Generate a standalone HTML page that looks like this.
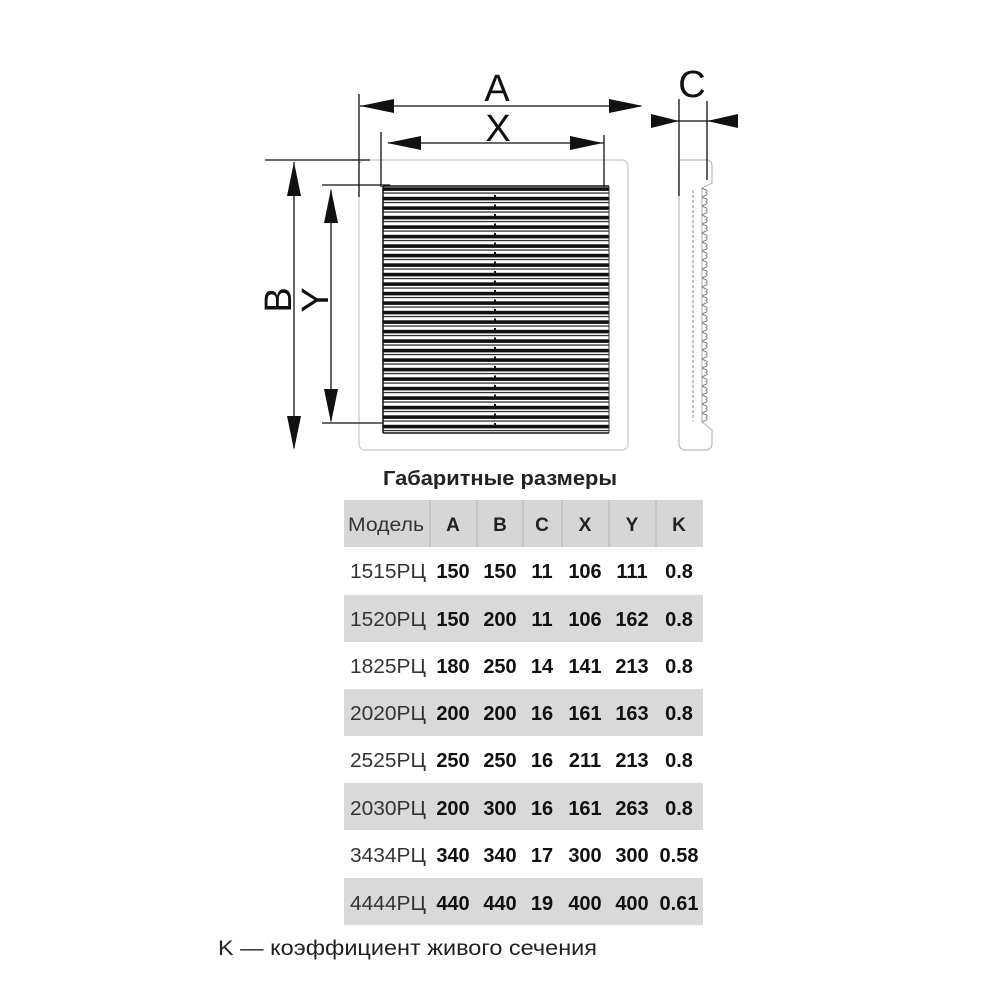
<!DOCTYPE html>
<html><head><meta charset="utf-8"><style>
html,body{margin:0;padding:0;background:#fff;}
svg{display:block;}
</style></head><body>
<svg width="1000" height="1000" viewBox="0 0 1000 1000" xmlns="http://www.w3.org/2000/svg" font-family="'Liberation Sans','DejaVu Sans',sans-serif">
<defs>
<pattern id="sl" x="0" y="186" width="10" height="9.5" patternUnits="userSpaceOnUse">
<rect x="0" y="1.3" width="10" height="3.6" fill="#111"/>
<rect x="0" y="6.4" width="10" height="1.3" fill="#333"/>
</pattern>
<pattern id="sc" x="0" y="188" width="20" height="9" patternUnits="userSpaceOnUse">
<path d="M0 0 Q10 2 6 4.5 Q10 7 0 9" fill="none" stroke="#777" stroke-width="0.9"/>
</pattern>
</defs>
<rect x="359" y="160" width="269" height="290" rx="6" fill="none" stroke="#c8c8c8" stroke-width="1.2"/>
<rect x="383" y="186" width="226" height="247" fill="url(#sl)"/>
<line x1="383" y1="186" x2="609" y2="186" stroke="#111" stroke-width="1.5"/>
<line x1="383" y1="433" x2="609" y2="433" stroke="#111" stroke-width="1.5"/>
<line x1="383" y1="186" x2="383" y2="433" stroke="#111" stroke-width="1.5"/>
<line x1="609" y1="186" x2="609" y2="433" stroke="#333" stroke-width="1"/>
<line x1="495" y1="195" x2="495" y2="430" stroke="#111" stroke-width="2" stroke-dasharray="2 7.5"/>
<line x1="359" y1="94" x2="359" y2="197" stroke="#111" stroke-width="1.3"/>
<line x1="360" y1="106" x2="641" y2="106" stroke="#111" stroke-width="1.3"/>
<polygon points="360,106 394,99 394,113" fill="#111"/>
<polygon points="643,106 609,99 609,113" fill="#111"/>
<text x="497" y="101" font-size="38" text-anchor="middle" fill="#111">A</text>
<line x1="381" y1="132" x2="381" y2="187" stroke="#111" stroke-width="1.3"/>
<line x1="604" y1="135" x2="604" y2="187" stroke="#111" stroke-width="1.3"/>
<line x1="388" y1="143" x2="604" y2="143" stroke="#111" stroke-width="1.3"/>
<polygon points="387,143 421,136 421,150" fill="#111"/>
<polygon points="603,143 570,136 570,150" fill="#111"/>
<text x="498" y="141" font-size="38" text-anchor="middle" fill="#111">X</text>
<line x1="265" y1="160" x2="370" y2="160" stroke="#111" stroke-width="1.3"/>
<line x1="294" y1="162" x2="294" y2="448" stroke="#111" stroke-width="1.3"/>
<polygon points="294,162 287,196 301,196" fill="#111"/>
<polygon points="294,450 287,416 301,416" fill="#111"/>
<text transform="translate(291,300) rotate(-90)" font-size="38" text-anchor="middle" fill="#111">B</text>
<line x1="322" y1="185" x2="390" y2="185" stroke="#111" stroke-width="1.3"/>
<line x1="322" y1="423" x2="383" y2="423" stroke="#111" stroke-width="1.3"/>
<line x1="331" y1="190" x2="331" y2="421" stroke="#111" stroke-width="1.3"/>
<polygon points="331,189 324,223 338,223" fill="#111"/>
<polygon points="331,423 324,389 338,389" fill="#111"/>
<text transform="translate(328,300) rotate(-90)" font-size="38" text-anchor="middle" fill="#111">Y</text>
<path d="M679 160 H706 Q712 160 712 167 V183 L702 188 V422 L712 430 V443 Q712 450 705 450 H686 Q679 450 679 443 Z" fill="none" stroke="#bbb" stroke-width="1.2"/>
<rect x="702" y="188" width="12" height="234" fill="url(#sc)"/>
<line x1="693" y1="190" x2="693" y2="421" stroke="#888" stroke-width="1" stroke-dasharray="3 2"/>
<line x1="679" y1="99" x2="679" y2="196" stroke="#111" stroke-width="1.3"/>
<line x1="707" y1="101" x2="707" y2="180" stroke="#111" stroke-width="1.3"/>
<line x1="652" y1="121" x2="737" y2="121" stroke="#111" stroke-width="1.3"/>
<polygon points="679,121 651,114 651,128" fill="#111"/>
<polygon points="707,121 738,114 738,128" fill="#111"/>
<text x="692" y="97" font-size="38" text-anchor="middle" fill="#111">C</text>
<text x="500" y="485" font-size="20" font-weight="bold" text-anchor="middle" fill="#222" textLength="234" lengthAdjust="spacingAndGlyphs">Габаритные размеры</text>
<rect x="344" y="500" width="359" height="47" fill="#d6d6d6"/>
<g stroke="#b5b5b5" stroke-width="1">
<line x1="430" y1="500" x2="430" y2="547"/><line x1="477" y1="500" x2="477" y2="547"/>
<line x1="523" y1="500" x2="523" y2="547"/><line x1="562" y1="500" x2="562" y2="547"/>
<line x1="609" y1="500" x2="609" y2="547"/><line x1="656" y1="500" x2="656" y2="547"/>
</g>
<rect x="344" y="595" width="359" height="47" fill="#d9d9d9"/>
<rect x="344" y="689" width="359" height="47" fill="#d9d9d9"/>
<rect x="344" y="783" width="359" height="47" fill="#d9d9d9"/>
<rect x="344" y="878" width="359" height="47" fill="#d9d9d9"/>
<g font-size="19" fill="#222">
<text x="386" y="531" text-anchor="middle" fill="#333" textLength="76" lengthAdjust="spacingAndGlyphs">Модель</text>
<g font-weight="bold" text-anchor="middle">
<text x="453" y="531">A</text><text x="500" y="531">B</text><text x="542" y="531">C</text>
<text x="585" y="531">X</text><text x="632" y="531">Y</text><text x="679" y="531">K</text>
</g>
</g>
<g font-size="20" fill="#111">
<g fill="#333" text-anchor="middle">
<text x="388" y="578" textLength="76" lengthAdjust="spacingAndGlyphs">1515РЦ</text><text x="388" y="626" textLength="76" lengthAdjust="spacingAndGlyphs">1520РЦ</text>
<text x="388" y="673" textLength="76" lengthAdjust="spacingAndGlyphs">1825РЦ</text><text x="388" y="720" textLength="76" lengthAdjust="spacingAndGlyphs">2020РЦ</text>
<text x="388" y="767" textLength="76" lengthAdjust="spacingAndGlyphs">2525РЦ</text><text x="388" y="815" textLength="76" lengthAdjust="spacingAndGlyphs">2030РЦ</text>
<text x="388" y="862" textLength="76" lengthAdjust="spacingAndGlyphs">3434РЦ</text><text x="388" y="910" textLength="76" lengthAdjust="spacingAndGlyphs">4444РЦ</text>
</g>
<g font-weight="bold" text-anchor="middle">
<text x="453" y="578">150</text><text x="500" y="578">150</text><text x="542" y="578">11</text><text x="585" y="578">106</text><text x="632" y="578">111</text><text x="679" y="578">0.8</text>
<text x="453" y="626">150</text><text x="500" y="626">200</text><text x="542" y="626">11</text><text x="585" y="626">106</text><text x="632" y="626">162</text><text x="679" y="626">0.8</text>
<text x="453" y="673">180</text><text x="500" y="673">250</text><text x="542" y="673">14</text><text x="585" y="673">141</text><text x="632" y="673">213</text><text x="679" y="673">0.8</text>
<text x="453" y="720">200</text><text x="500" y="720">200</text><text x="542" y="720">16</text><text x="585" y="720">161</text><text x="632" y="720">163</text><text x="679" y="720">0.8</text>
<text x="453" y="767">250</text><text x="500" y="767">250</text><text x="542" y="767">16</text><text x="585" y="767">211</text><text x="632" y="767">213</text><text x="679" y="767">0.8</text>
<text x="453" y="815">200</text><text x="500" y="815">300</text><text x="542" y="815">16</text><text x="585" y="815">161</text><text x="632" y="815">263</text><text x="679" y="815">0.8</text>
<text x="453" y="862">340</text><text x="500" y="862">340</text><text x="542" y="862">17</text><text x="585" y="862">300</text><text x="632" y="862">300</text><text x="679" y="862">0.58</text>
<text x="453" y="910">440</text><text x="500" y="910">440</text><text x="542" y="910">19</text><text x="585" y="910">400</text><text x="632" y="910">400</text><text x="679" y="910">0.61</text>
</g>
</g>
<text x="218" y="955" font-size="21" fill="#222" textLength="379" lengthAdjust="spacingAndGlyphs">K — коэффициент живого сечения</text>
</svg>
</body></html>
